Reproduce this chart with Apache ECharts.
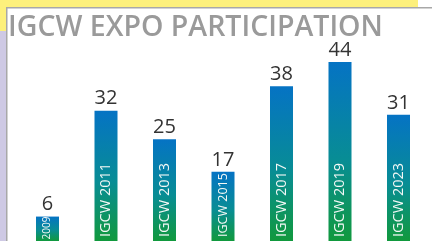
<!DOCTYPE html>
<html lang="en">
  <head>
    <meta charset="UTF-8" />
    <title>IGCW Expo Participation</title>
    <script src="https://cdn.jsdelivr.net/npm/echarts@6.0.0/dist/echarts.min.js"></script>
    <style>
      body { margin: 0; background: #fff; }
    </style>
  </head>
  <body>
    <div id="main" style="width: 432px; height: 241px"></div>
    <script type="text/javascript">
      // chart data
      const years = ["2009", "2011", "2013", "2015", "2017", "2019", "2023"];
      const participants = [6, 32, 25, 17, 38, 44, 31];
      const barLabels = ["2009", "IGCW 2011", "IGCW 2013", "IGCW 2015", "IGCW 2017", "IGCW 2019", "IGCW 2023"];

      let myChart = echarts.init(document.getElementById("main"));

      const barColor = new echarts.graphic.LinearGradient(0, 0, 0, 1, [
        { offset: 0, color: "#0573c4" },
        { offset: 0.55, color: "#088d94" },
        { offset: 1, color: "#11993d" },
      ]);

      // the first bar is too short for the full label
      const barData = participants.map((v, i) => ({
        value: v,
        label: i === 0 ? { fontSize: 10, distance: 1.5 } : (i === 3 ? { fontSize: 12.5 } : {}),
      }));

      let options = {
        animation: false,
        backgroundColor: "#fff",
        graphic: [
          { type: "rect", shape: { x: 0, y: 0, width: 418, height: 7.5 }, style: { fill: "#fdf07c" }, z: -10 },
          { type: "rect", shape: { x: 0, y: 0, width: 6.5, height: 31 }, style: { fill: "#fdf07c" }, z: -10 },
          { type: "rect", shape: { x: 0, y: 31, width: 6.5, height: 210 }, style: { fill: "#cec9e4" }, z: -10 },
          { type: "rect", shape: { x: 6, y: 7, width: 426, height: 1.5 }, style: { fill: "#a8a8a8" }, z: -9 },
          { type: "rect", shape: { x: 6, y: 7, width: 1.5, height: 234 }, style: { fill: "#a8a8a8" }, z: -9 },
          {
            type: "text",
            left: 8,
            top: 13.5,
            style: {
              text: "IGCW EXPO PARTICIPATION",
              fill: "#9a9a9a",
              font: "600 28.5px 'Open Sans'",
            },
          },
        ],
        grid: { left: 18.25, right: 4.25, top: 37.5, bottom: -1.5 },
        xAxis: {
          type: "category",
          data: years,
          axisLine: { show: false },
          axisTick: { show: false },
          axisLabel: { show: false },
        },
        yAxis: {
          type: "value",
          min: 0,
          max: 50,
          show: false,
          splitLine: { show: false },
        },
        series: [
          {
            type: "bar",
            barWidth: 23,
            data: barData,
            itemStyle: { color: barColor },
            label: {
              show: true,
              position: "insideBottom",
              rotate: 90,
              align: "left",
              verticalAlign: "middle",
              distance: 4,
              color: "#f4f8f6",
              fontFamily: "Open Sans",
              fontSize: 14.5,
              formatter: (p) => barLabels[p.dataIndex],
            },
          },
          {
            // value labels above the bars
            type: "bar",
            barWidth: 23,
            barGap: "-100%",
            data: participants,
            itemStyle: { color: "transparent" },
            silent: true,
            z: 3,
            label: {
              show: true,
              position: "top",
              distance: 2,
              color: "#333",
              fontFamily: "Open Sans",
              fontSize: 20,
            },
          },
        ],
      };

      myChart.setOption(options);
    </script>
  </body>
</html>
